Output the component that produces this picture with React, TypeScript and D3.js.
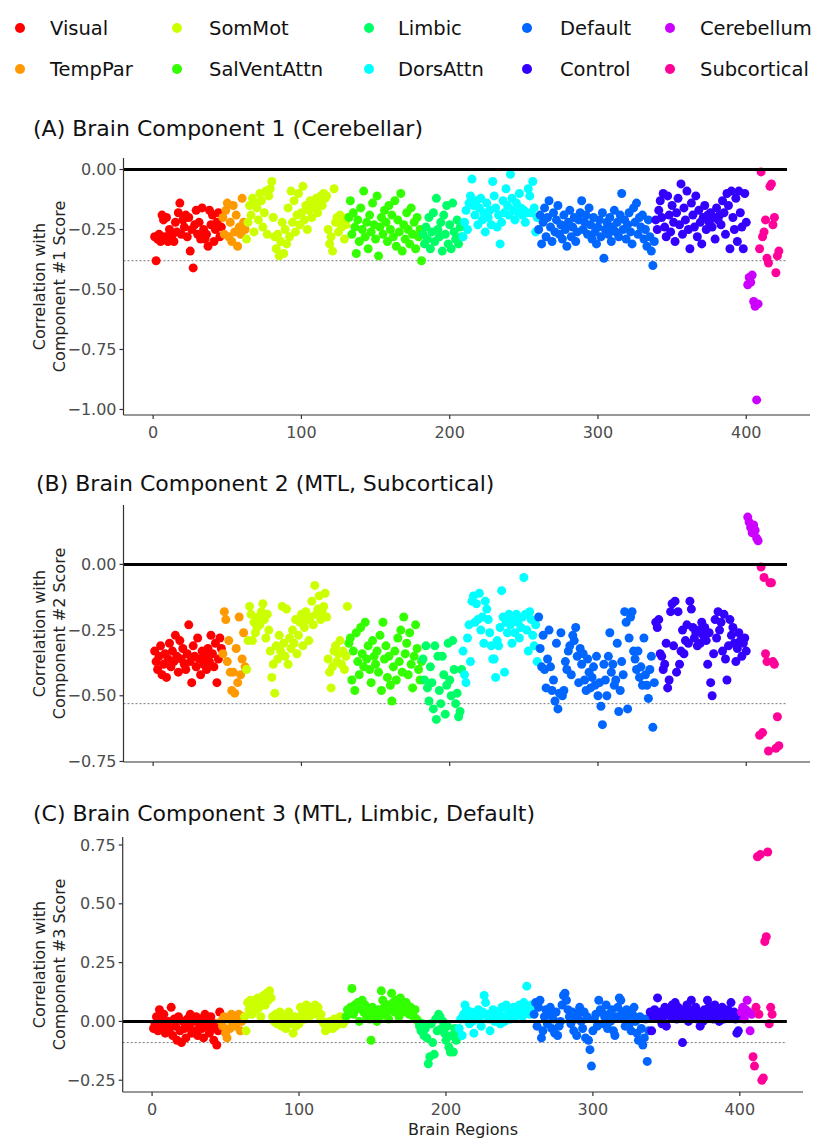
import React from 'react';
import * as d3 from 'd3';

// networks in plotting order, sizes are region counts (1..422)
const networks = ['Visual', 'TempPar', 'SomMot', 'SalVentAttn', 'Limbic', 'DorsAttn', 'Default', 'Control', 'Cerebellum', 'Subcortical'];
const networkColors = ['#FF0000', '#FF9900', '#CCFF00', '#33FF00', '#00FF66', '#00FFFF', '#0066FF', '#3300FF', '#CC00FF', '#FF0099'];
const networkSizes = [46, 16, 69, 50, 27, 51, 79, 62, 8, 14];

const comp1Scores = [
  // Visual
  -0.28,-0.38,-0.29,-0.27,-0.30,-0.19,-0.21,-0.28,-0.20,-0.30,
  -0.25,-0.29,-0.27,-0.30,-0.22,-0.26,-0.18,-0.14,-0.27,-0.21,
  -0.24,-0.19,-0.28,-0.20,-0.34,-0.25,-0.41,-0.23,-0.17,-0.27,
  -0.22,-0.29,-0.16,-0.25,-0.29,-0.27,-0.32,-0.17,-0.23,-0.19,
  -0.30,-0.25,-0.22,-0.18,-0.28,-0.24,
  // TempPar
  -0.20,-0.27,-0.17,-0.14,-0.28,-0.22,-0.30,-0.15,-0.26,-0.19,-0.32,-0.24,-0.27,-0.12,-0.22,-0.25,
  // SomMot
  -0.29,-0.22,-0.15,-0.19,-0.12,-0.26,-0.14,-0.16,-0.21,-0.10,
  -0.13,-0.24,-0.18,-0.09,-0.27,-0.11,-0.08,-0.05,-0.20,-0.28,
  -0.33,-0.27,-0.36,-0.30,-0.22,-0.35,-0.25,-0.31,-0.16,-0.28,
  -0.09,-0.22,-0.13,-0.26,-0.19,-0.10,-0.23,-0.18,-0.07,-0.21,
  -0.15,-0.25,-0.17,-0.13,-0.20,-0.14,-0.16,-0.12,-0.18,-0.13,
  -0.11,-0.15,-0.10,-0.12,-0.11,-0.25,-0.31,-0.28,-0.34,-0.08,
  -0.22,-0.20,-0.26,-0.19,-0.24,-0.21,-0.29,-0.23,-0.20,
  // SalVentAttn
  -0.20,-0.13,-0.27,-0.18,-0.24,-0.35,-0.21,-0.30,-0.16,-0.25,
  -0.09,-0.28,-0.22,-0.33,-0.19,-0.26,-0.14,-0.23,-0.29,-0.11,
  -0.36,-0.24,-0.20,-0.27,-0.17,-0.22,-0.30,-0.15,-0.25,-0.19,
  -0.28,-0.13,-0.32,-0.21,-0.26,-0.10,-0.34,-0.23,-0.29,-0.18,
  -0.25,-0.31,-0.16,-0.27,-0.22,-0.33,-0.20,-0.28,-0.25,-0.38,
  // Limbic
  -0.27,-0.31,-0.24,-0.29,-0.20,-0.33,-0.26,-0.18,-0.30,-0.12,
  -0.25,-0.28,-0.22,-0.34,-0.19,-0.27,-0.15,-0.31,-0.23,-0.33,
  -0.14,-0.26,-0.29,-0.21,-0.31,-0.24,-0.28,
  // DorsAttn
  -0.28,-0.22,-0.17,-0.25,-0.14,-0.11,-0.04,-0.15,-0.19,-0.13,
  -0.23,-0.16,-0.12,-0.21,-0.18,-0.26,-0.14,-0.20,-0.17,-0.23,
  -0.05,-0.11,-0.16,-0.24,-0.19,-0.31,-0.22,-0.13,-0.18,-0.08,
  -0.15,-0.19,-0.02,-0.12,-0.17,-0.21,-0.14,-0.18,-0.10,-0.16,
  -0.19,-0.17,-0.22,-0.18,-0.08,-0.11,-0.18,-0.05,-0.16,-0.26,
  -0.20,
  // Default
  -0.25,-0.19,-0.31,-0.22,-0.16,-0.28,-0.20,-0.13,-0.24,-0.30,
  -0.18,-0.26,-0.21,-0.15,-0.27,-0.23,-0.29,-0.19,-0.25,-0.32,
  -0.22,-0.17,-0.28,-0.24,-0.20,-0.30,-0.26,-0.21,-0.18,-0.13,
  -0.25,-0.22,-0.19,-0.27,-0.16,-0.23,-0.29,-0.20,-0.26,-0.31,
  -0.24,-0.21,-0.28,-0.18,-0.37,-0.25,-0.22,-0.27,-0.20,-0.30,
  -0.24,-0.17,-0.26,-0.22,-0.28,-0.19,-0.10,-0.25,-0.21,-0.29,
  -0.23,-0.18,-0.26,-0.31,-0.16,-0.22,-0.14,-0.27,-0.20,-0.24,
  -0.19,-0.29,-0.25,-0.32,-0.21,-0.28,-0.34,-0.40,-0.30,
  // Control
  -0.21,-0.25,-0.17,-0.13,-0.20,-0.10,-0.24,-0.28,-0.11,-0.19,
  -0.26,-0.15,-0.22,-0.30,-0.18,-0.12,-0.23,-0.06,-0.27,-0.16,
  -0.21,-0.09,-0.25,-0.33,-0.14,-0.19,-0.24,-0.11,-0.28,-0.17,
  -0.22,-0.31,-0.20,-0.15,-0.25,-0.19,-0.22,-0.18,-0.24,-0.20,
  -0.29,-0.16,-0.21,-0.19,-0.23,-0.13,-0.18,-0.27,-0.10,-0.15,
  -0.33,-0.09,-0.20,-0.25,-0.12,-0.30,-0.09,-0.18,-0.24,-0.33,
  -0.10,-0.22,
  // Cerebellum
  -0.48,-0.45,-0.47,-0.44,-0.55,-0.57,-0.96,-0.56,
  // Subcortical
  -0.33,-0.01,-0.28,-0.26,-0.21,-0.37,-0.39,-0.07,-0.06,-0.23,-0.20,-0.43,-0.36,-0.34,
];

const comp2Scores = [
  // Visual
  -0.33,-0.37,-0.40,-0.35,-0.31,-0.42,-0.38,-0.34,-0.43,-0.36,
  -0.30,-0.39,-0.33,-0.37,-0.27,-0.35,-0.41,-0.29,-0.36,-0.32,
  -0.38,-0.40,-0.34,-0.23,-0.37,-0.45,-0.31,-0.35,-0.39,-0.28,
  -0.36,-0.42,-0.33,-0.38,-0.35,-0.40,-0.32,-0.37,-0.27,-0.34,
  -0.39,-0.30,-0.45,-0.36,-0.28,-0.32,
  // TempPar
  -0.34,-0.18,-0.21,-0.37,-0.29,-0.41,-0.48,-0.41,-0.49,-0.32,-0.45,-0.20,-0.42,-0.36,-0.26,-0.39,
  // SomMot
  -0.40,-0.29,-0.16,-0.19,-0.29,-0.22,-0.26,-0.24,-0.20,-0.23,
  -0.18,-0.15,-0.21,-0.28,-0.19,-0.25,-0.33,-0.43,-0.38,-0.49,
  -0.31,-0.36,-0.27,-0.33,-0.16,-0.30,-0.35,-0.17,-0.38,-0.28,
  -0.32,-0.25,-0.30,-0.21,-0.34,-0.27,-0.22,-0.19,-0.31,-0.24,
  -0.18,-0.21,-0.29,-0.20,-0.14,-0.23,-0.08,-0.19,-0.17,-0.12,
  -0.21,-0.18,-0.16,-0.11,-0.20,-0.36,-0.41,-0.47,-0.39,-0.33,
  -0.31,-0.37,-0.34,-0.29,-0.38,-0.33,-0.40,-0.35,-0.16,
  // SalVentAttn
  -0.30,-0.28,-0.44,-0.33,-0.48,-0.26,-0.37,-0.42,-0.24,-0.34,
  -0.39,-0.22,-0.36,-0.31,-0.40,-0.45,-0.29,-0.35,-0.38,-0.33,
  -0.41,-0.27,-0.48,-0.22,-0.36,-0.31,-0.43,-0.35,-0.46,-0.52,
  -0.39,-0.33,-0.44,-0.28,-0.37,-0.25,-0.41,-0.20,-0.34,-0.30,
  -0.42,-0.26,-0.38,-0.47,-0.35,-0.23,-0.32,-0.40,-0.44,-0.37,
  // Limbic
  -0.36,-0.44,-0.31,-0.47,-0.52,-0.39,-0.45,-0.55,-0.31,-0.59,
  -0.35,-0.48,-0.53,-0.35,-0.42,-0.57,-0.46,-0.30,-0.44,-0.50,
  -0.29,-0.40,-0.53,-0.49,-0.58,-0.56,-0.40,
  // DorsAttn
  -0.33,-0.42,-0.45,-0.28,-0.23,-0.37,-0.14,-0.12,-0.22,-0.15,
  -0.21,-0.11,-0.25,-0.20,-0.30,-0.14,-0.17,-0.21,-0.26,-0.31,
  -0.36,-0.36,-0.43,-0.29,-0.31,-0.24,-0.10,-0.20,-0.41,-0.22,
  -0.26,-0.19,-0.23,-0.30,-0.21,-0.26,-0.19,-0.22,-0.28,-0.24,
  -0.20,-0.05,-0.19,-0.25,-0.33,-0.18,-0.21,-0.27,-0.31,-0.23,
  -0.37,
  // Default
  -0.20,-0.32,-0.39,-0.27,-0.40,-0.47,-0.36,-0.25,-0.39,-0.48,
  -0.44,-0.52,-0.30,-0.55,-0.49,-0.26,-0.50,-0.48,-0.37,-0.40,
  -0.33,-0.31,-0.42,-0.27,-0.29,-0.24,-0.35,-0.45,-0.32,-0.38,
  -0.34,-0.44,-0.48,-0.36,-0.41,-0.47,-0.43,-0.39,-0.46,-0.35,
  -0.50,-0.45,-0.54,-0.61,-0.38,-0.44,-0.50,-0.35,-0.26,-0.41,
  -0.38,-0.46,-0.44,-0.30,-0.56,-0.48,-0.37,-0.42,-0.18,-0.22,
  -0.55,-0.28,-0.20,-0.18,-0.33,-0.36,-0.40,-0.33,-0.43,-0.39,
  -0.46,-0.28,-0.42,-0.46,-0.51,-0.40,-0.35,-0.62,-0.45,
  // Control
  -0.22,-0.24,-0.21,-0.34,-0.35,-0.40,-0.38,-0.30,-0.47,-0.44,
  -0.18,-0.15,-0.31,-0.14,-0.41,-0.18,-0.38,-0.33,-0.25,-0.34,
  -0.29,-0.23,-0.30,-0.14,-0.17,-0.24,-0.28,-0.26,-0.31,-0.25,
  -0.30,-0.22,-0.27,-0.24,-0.29,-0.38,-0.26,-0.45,-0.50,-0.34,
  -0.21,-0.28,-0.18,-0.25,-0.22,-0.33,-0.19,-0.36,-0.44,-0.31,
  -0.21,-0.27,-0.24,-0.30,-0.37,-0.32,-0.26,-0.29,-0.35,-0.30,
  -0.28,-0.33,
  // Cerebellum
  0.18,0.16,0.14,0.12,0.15,0.13,0.10,0.09,
  // Subcortical
  -0.65,-0.01,-0.64,-0.05,-0.34,-0.37,-0.71,-0.07,-0.07,-0.37,-0.38,-0.70,-0.58,-0.69,
];

const comp3Scores = [
  // Visual
  -0.03,-0.01,0.02,-0.04,0.05,0.01,-0.02,0.03,-0.05,-0.01,
  0.00,-0.03,0.06,-0.06,0.01,-0.02,-0.08,0.02,-0.04,-0.09,
  0.00,-0.03,-0.07,0.01,-0.02,0.03,-0.05,0.00,-0.04,0.02,
  -0.06,-0.01,0.01,-0.03,-0.07,0.03,-0.02,0.00,-0.05,0.02,
  -0.03,-0.08,-0.01,-0.10,-0.04,0.04,
  // TempPar
  0.00,-0.02,0.02,-0.05,-0.07,0.01,-0.03,0.03,-0.01,0.02,-0.02,0.01,0.03,-0.04,0.00,0.02,
  // SomMot
  0.02,-0.04,0.08,0.05,0.09,0.03,0.07,0.09,0.05,0.10,
  0.06,0.02,0.08,0.11,0.07,0.12,0.09,0.13,0.10,0.02,
  0.00,0.03,-0.01,0.01,0.04,-0.02,0.00,0.02,-0.03,0.01,
  0.04,-0.01,0.00,-0.05,0.02,-0.02,0.01,-0.01,0.06,0.03,
  0.05,0.01,0.07,0.04,0.02,0.06,0.03,0.05,0.07,0.04,
  0.06,0.02,0.03,0.00,-0.01,-0.04,-0.02,-0.03,0.00,-0.01,
  -0.03,0.01,-0.02,0.00,-0.01,0.02,0.01,-0.01,0.00,
  // SalVentAttn
  0.02,0.05,0.04,0.06,0.14,0.03,0.07,0.05,0.08,0.00,
  0.06,0.09,0.04,0.07,0.02,0.05,0.01,-0.08,0.06,0.03,
  0.04,0.00,0.05,0.02,0.13,0.09,0.06,0.03,0.07,0.01,
  0.05,0.12,0.08,0.04,0.09,0.06,0.02,0.10,0.07,0.04,
  0.06,0.08,0.05,0.03,0.06,0.04,0.02,0.05,0.01,0.00,
  // Limbic
  -0.02,-0.04,-0.01,-0.06,-0.03,-0.07,-0.18,-0.15,-0.01,-0.09,
  -0.14,0.01,-0.04,0.03,0.02,-0.03,0.00,-0.05,-0.08,-0.02,
  -0.11,-0.13,-0.06,-0.13,-0.03,-0.08,-0.05,
  // DorsAttn
  -0.03,0.01,-0.06,0.03,0.07,0.05,0.02,-0.01,0.04,0.00,
  -0.05,0.03,0.01,0.05,0.02,-0.02,0.04,0.11,0.08,0.03,
  0.01,-0.04,0.02,0.05,0.00,0.03,0.01,0.04,-0.01,0.06,
  0.02,0.00,0.07,0.03,0.05,0.01,0.04,0.06,0.02,0.05,
  0.03,0.07,0.04,0.02,0.08,0.05,0.15,0.06,0.03,0.07,
  0.04,
  // Default
  0.03,0.08,-0.02,0.06,0.09,-0.07,-0.04,0.02,0.05,-0.01,
  0.03,0.06,-0.03,0.01,-0.05,0.04,-0.06,-0.02,0.00,0.07,
  0.11,0.12,0.09,0.05,0.02,-0.01,0.04,-0.04,0.01,-0.06,
  0.03,0.06,0.00,-0.03,0.04,-0.07,0.02,-0.08,-0.12,-0.19,
  -0.04,0.01,0.03,-0.02,0.09,0.05,0.04,-0.01,0.02,0.07,
  -0.03,0.03,0.00,0.05,-0.04,-0.06,0.02,0.06,0.10,0.09,
  0.04,0.01,-0.02,0.05,0.02,-0.01,-0.04,0.03,0.06,0.00,
  -0.05,-0.08,0.02,-0.03,-0.10,-0.07,0.01,-0.17,-0.04,
  // Control
  0.04,-0.04,0.02,0.05,0.03,0.10,0.01,0.04,-0.01,0.02,
  0.06,-0.02,0.03,0.05,0.02,0.07,0.04,0.08,0.01,0.06,
  0.03,0.05,-0.09,0.02,0.04,0.07,0.00,0.03,0.09,0.05,
  0.02,0.06,0.01,0.04,-0.02,0.03,0.00,0.05,0.02,0.09,
  0.06,0.03,0.04,0.01,0.07,0.05,0.02,0.00,0.03,0.06,
  0.01,0.04,0.02,0.05,0.03,0.08,0.02,0.04,0.01,-0.05,
  -0.04,0.03,
  // Cerebellum
  0.04,0.06,0.01,0.05,0.09,0.04,-0.04,0.03,
  // Subcortical
  -0.15,-0.19,0.06,0.70,0.03,0.71,-0.25,-0.24,0.34,0.36,0.72,-0.01,0.06,0.03,
];

const thresholds = [-0.38, -0.53, -0.09];
const xTicks = [0, 100, 200, 300, 400];
const yTicks1 = [0, -0.25, -0.5, -0.75, -1];
const yTicks2 = [0, -0.25, -0.5, -0.75];
const yTicks3 = [0.75, 0.5, 0.25, 0, -0.25];
const panelTitles = [
  '(A) Brain Component 1 (Cerebellar)',
  '(B) Brain Component 2 (MTL, Subcortical)',
  '(C) Brain Component 3 (MTL, Limbic, Default)',
];
const yTitles = ['Component #1 Score', 'Component #2 Score', 'Component #3 Score'];

const regionNetwork: number[] = networkSizes.flatMap((n, k) => Array(n).fill(k));

const font = '"DejaVu Sans", "Liberation Sans", Arial, sans-serif';

const panels = [
  { scores: comp1Scores, yTicks: yTicks1, yDomain: [-1.023, 0.048], top: 158, bottom: 415, left: 123.5, right: 810, zeroEnd: 427.5, xLabels: true, titleX: 33, titleY: 136 },
  { scores: comp2Scores, yTicks: yTicks2, yDomain: [-0.752, 0.226], top: 505, bottom: 762, left: 123.5, right: 810, zeroEnd: 427.5, xLabels: false, titleX: 36, titleY: 491 },
  { scores: comp3Scores, yTicks: yTicks3, yDomain: [-0.30, 0.784], top: 837, bottom: 1092, left: 122.7, right: 803, zeroEnd: 432, xLabels: true, titleX: 33, titleY: 821 },
];

function Panel({ p, i }: { p: any; i: number }) {
  const x = d3.scaleLinear().domain([-20, 443]).range([p.left, p.right]);
  const y = d3.scaleLinear().domain(p.yDomain).range([p.bottom, p.top]);
  const midY = (p.top + p.bottom) / 2;
  const fmt = d3.format('.2f');
  return (
    <g>
      <text x={p.titleX} y={p.titleY} fontSize={22} fill="#111">{panelTitles[i]}</text>

      <line x1={p.left} x2={x(p.zeroEnd)} y1={y(thresholds[i])} y2={y(thresholds[i])}
        stroke="#777" strokeWidth={1} strokeDasharray="2,2" />

      {p.scores.map((v: number, k: number) => (
        <circle key={k} cx={x(k + 1)} cy={y(v)} r={4.5} fill={networkColors[regionNetwork[k]]} />
      ))}

      <line x1={p.left} x2={x(p.zeroEnd)} y1={y(0)} y2={y(0)} stroke="#000" strokeWidth={3} />

      {/* axes */}
      <line x1={p.left} x2={p.left} y1={p.top} y2={p.bottom} stroke="#333" strokeWidth={1.2} />
      <line x1={p.left} x2={p.right} y1={p.bottom} y2={p.bottom} stroke="#333" strokeWidth={1.2} />
      {p.yTicks.map((t: number) => (
        <g key={t}>
          <line x1={p.left - 4} x2={p.left} y1={y(t)} y2={y(t)} stroke="#333" strokeWidth={1.2} />
          <text x={p.left - 7} y={y(t)} dy="0.35em" textAnchor="end" fontSize={16} fill="#4d4d4d">{fmt(t)}</text>
        </g>
      ))}
      {xTicks.map((t) => (
        <g key={t}>
          <line x1={x(t)} x2={x(t)} y1={p.bottom} y2={p.bottom + 4} stroke="#333" strokeWidth={1.2} />
          {p.xLabels && (
            <text x={x(t)} y={p.bottom + 23} textAnchor="middle" fontSize={16} fill="#4d4d4d">{t}</text>
          )}
        </g>
      ))}

      <text transform={`translate(45,${midY}) rotate(-90)`} textAnchor="middle" fontSize={16} fill="#222">Correlation with</text>
      <text transform={`translate(65,${midY}) rotate(-90)`} textAnchor="middle" fontSize={16} fill="#222">{yTitles[i]}</text>
    </g>
  );
}

const legendDotX = [20, 177, 369, 527, 670];
const legendTextX = [50, 209, 398, 560, 700];
const legendRowY = [28, 69];

export default function App() {
  return (
    <svg width={814} height={1140} style={{ position: 'absolute', left: 0, top: 0, background: '#fff' }} fontFamily={font}>
      <rect width={814} height={1140} fill="#fff" />
      {networks.map((name, k) => {
        const col = Math.floor(k / 2);
        const row = k % 2;
        return (
          <g key={name}>
            <circle cx={legendDotX[col]} cy={legendRowY[row]} r={5} fill={networkColors[k]} />
            <text x={legendTextX[col]} y={legendRowY[row]} dy="0.35em" fontSize={19.5} fill="#111">{name}</text>
          </g>
        );
      })}
      {panels.map((p, i) => <Panel key={i} p={p} i={i} />)}
      <text x={463} y={1135} textAnchor="middle" fontSize={16} fill="#222">Brain Regions</text>
    </svg>
  );
}
